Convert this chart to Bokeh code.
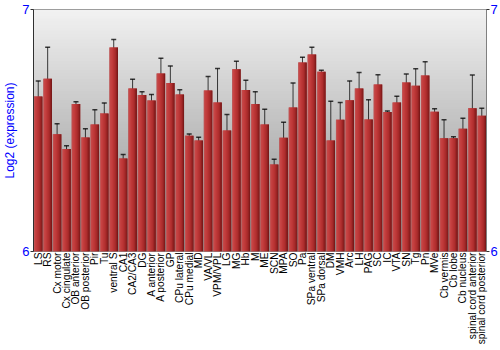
import numpy as np
from bokeh.plotting import figure
from bokeh.models import (ColumnDataSource, FactorRange, FixedTicker, LinearAxis,
                          Whisker, BoxAnnotation, Range1d, TeeHead)
from bokeh.transform import dodge
from bokeh.embed import file_html
from bokeh.resources import INLINE

categories = ["LS", "RS", "Cx motor", "Cx cingulate", "OB anterior", "OB posterior",
              "Pir", "Tu", "ventral S", "CA1", "CA2/CA3", "DG", "A anterior",
              "A posterior", "GP", "CPu lateral", "CPu medial", "MD", "VA/VL",
              "VPM/VPL", "LG", "MG", "Hb", "M", "ME", "SCN", "MPA", "SO", "Pa",
              "SPa ventral", "SPa dorsal", "DM", "VMH", "Arc", "LH", "PAG", "SC",
              "IC", "VTA", "SN", "Tg", "Pn", "MVe", "Cb vermis", "Cb lobe",
              "Cb nucleus", "spinal cord anterior", "spinal cord posterior"]

values = [6.640, 6.714, 6.485, 6.424, 6.609, 6.471, 6.525, 6.570, 6.843, 6.384,
          6.674, 6.647, 6.624, 6.736, 6.696, 6.649, 6.478, 6.459, 6.665, 6.616,
          6.500, 6.753, 6.667, 6.610, 6.525, 6.360, 6.470, 6.595, 6.781, 6.814,
          6.743, 6.459, 6.544, 6.625, 6.674, 6.545, 6.690, 6.576, 6.616, 6.698,
          6.685, 6.727, 6.577, 6.468, 6.468, 6.507, 6.592, 6.561]

err_upper = [6.705, 6.844, 6.528, 6.437, 6.619, 6.507, 6.586, 6.614, 6.876, 6.401,
             6.712, 6.660, 6.649, 6.799, 6.767, 6.668, 6.486, 6.472, 6.723, 6.756,
             6.566, 6.786, 6.708, 6.660, 6.588, 6.381, 6.534, 6.696, 6.803, 6.844,
             6.749, 6.621, 6.616, 6.705, 6.740, 6.627, 6.730, 6.581, 6.642, 6.733,
             6.755, 6.784, 6.590, 6.544, 6.474, 6.551, 6.729, 6.592]

err_lower = [6.577, 6.586, 6.442, 6.410, 6.602, 6.435, 6.466, 6.528, 6.813, 6.368,
             6.633, 6.635, 6.596, 6.672, 6.627, 6.629, 6.471, 6.445, 6.606, 6.474,
             6.434, 6.722, 6.624, 6.561, 6.463, 6.335, 6.404, 6.495, 6.757, 6.784,
             6.736, 6.299, 6.472, 6.547, 6.609, 6.467, 6.650, 6.571, 6.592, 6.667,
             6.616, 6.672, 6.565, 6.393, 6.464, 6.464, 6.456, 6.529]

y_ticks = [6, 7]

source = ColumnDataSource(dict(cats=categories, top=values,
                               lo=err_lower, hi=err_upper))

p = figure(width=500, height=350, x_range=FactorRange(*categories, range_padding=0),
           y_range=Range1d(y_ticks[0], y_ticks[-1]),
           output_backend="svg", toolbar_location=None,
           min_border_left=28, min_border_right=13, min_border_top=9,
           min_border_bottom=99)

p.background_fill_color = "white"
p.border_fill_color = "white"
p.outline_line_color = "#808080"
p.outline_line_width = 1
p.grid.visible = False

# background vertical gradient (light top -> darker bottom)
def hex_lerp(c1, c2, t):
    a = np.array([int(c1[i:i + 2], 16) for i in (1, 3, 5)], float)
    b = np.array([int(c2[i:i + 2], 16) for i in (1, 3, 5)], float)
    c = a + (b - a) * t
    return "#%02x%02x%02x" % tuple(int(round(v)) for v in c)

n_bands = 80
ymin, ymax = y_ticks[0], y_ticks[-1]
for k in range(n_bands):
    t = (k + 0.5) / n_bands
    top = ymax - (ymax - ymin) * k / n_bands
    p.add_layout(BoxAnnotation(bottom=ymin, top=top, fill_color=hex_lerp("#f2f2f2", "#8a8a8a", t),
                               fill_alpha=1, line_color=None, level="underlay"))

# bars with horizontal shading
bar_w = 0.9
stops = [(0.0, "#b86a6a"), (0.12, "#cc4a4a"), (0.4, "#c03a3a"),
         (0.7, "#a82a2a"), (1.0, "#6a1212")]

def grad(t):
    for (t0, c0), (t1, c1) in zip(stops[:-1], stops[1:]):
        if t <= t1:
            return hex_lerp(c0, c1, (t - t0) / (t1 - t0))
    return stops[-1][1]

p.vbar(x="cats", top="top", bottom=ymin, width=bar_w, source=source,
       fill_color=grad(0.5), line_color=None)
n_strips = 10
sw = bar_w / n_strips
for i in range(n_strips):
    off = -bar_w / 2 + sw * (i + 0.5)
    p.vbar(x=dodge("cats", off, range=p.x_range), top="top", bottom=ymin,
           width=sw * 1.05, source=source,
           fill_color=grad((i + 0.5) / n_strips), line_color=None)

# error bars
p.add_layout(Whisker(base="cats", lower="lo", upper="hi", source=source,
                     line_color="black", line_alpha=0.75, line_width=1,
                     upper_head=TeeHead(size=5, line_color="black", line_alpha=0.75, line_width=1.5),
                     lower_head=TeeHead(size=5, line_color="black", line_alpha=0.75, line_width=1.5)))

# axes
font = "Liberation Sans"
yax = p.yaxis[0]
yax.ticker = FixedTicker(ticks=y_ticks)
yax.axis_label = "Log2 (expression)"
yax.axis_label_text_color = "#0000ff"
yax.axis_label_text_font = font
yax.axis_label_text_font_style = "normal"
yax.axis_label_text_font_size = "12px"
yax.axis_label_standoff = 2
yax.major_label_text_color = "#0000ff"
yax.major_label_text_font = font
yax.major_label_text_font_size = "13px"
yax.major_label_standoff = 1
yax.major_tick_out = 3
yax.major_tick_in = 0
yax.minor_tick_line_color = None
yax.axis_line_color = "#303030"
yax.major_tick_line_color = "#303030"

rax = LinearAxis(ticker=FixedTicker(ticks=y_ticks))
rax.major_label_text_color = "#0000ff"
rax.major_label_text_font = font
rax.major_label_text_font_size = "13px"
rax.major_label_standoff = 1
rax.major_tick_out = 3
rax.major_tick_in = 0
rax.minor_tick_line_color = None
rax.axis_line_color = "#808080"
rax.major_tick_line_color = "#303030"
p.add_layout(rax, "right")

xax = p.xaxis[0]
xax.major_label_orientation = np.pi / 2
xax.major_label_text_font = font
xax.major_label_text_font_size = "10.2px"
xax.major_label_text_color = "black"
xax.major_label_standoff = 1
xax.major_tick_out = 0
xax.major_tick_in = 0
xax.minor_tick_out = 0
xax.minor_tick_in = 0
xax.axis_line_color = None
xax.major_tick_line_color = None
xax.minor_tick_line_color = None

open("out.html", "w").write(file_html(p, INLINE))
